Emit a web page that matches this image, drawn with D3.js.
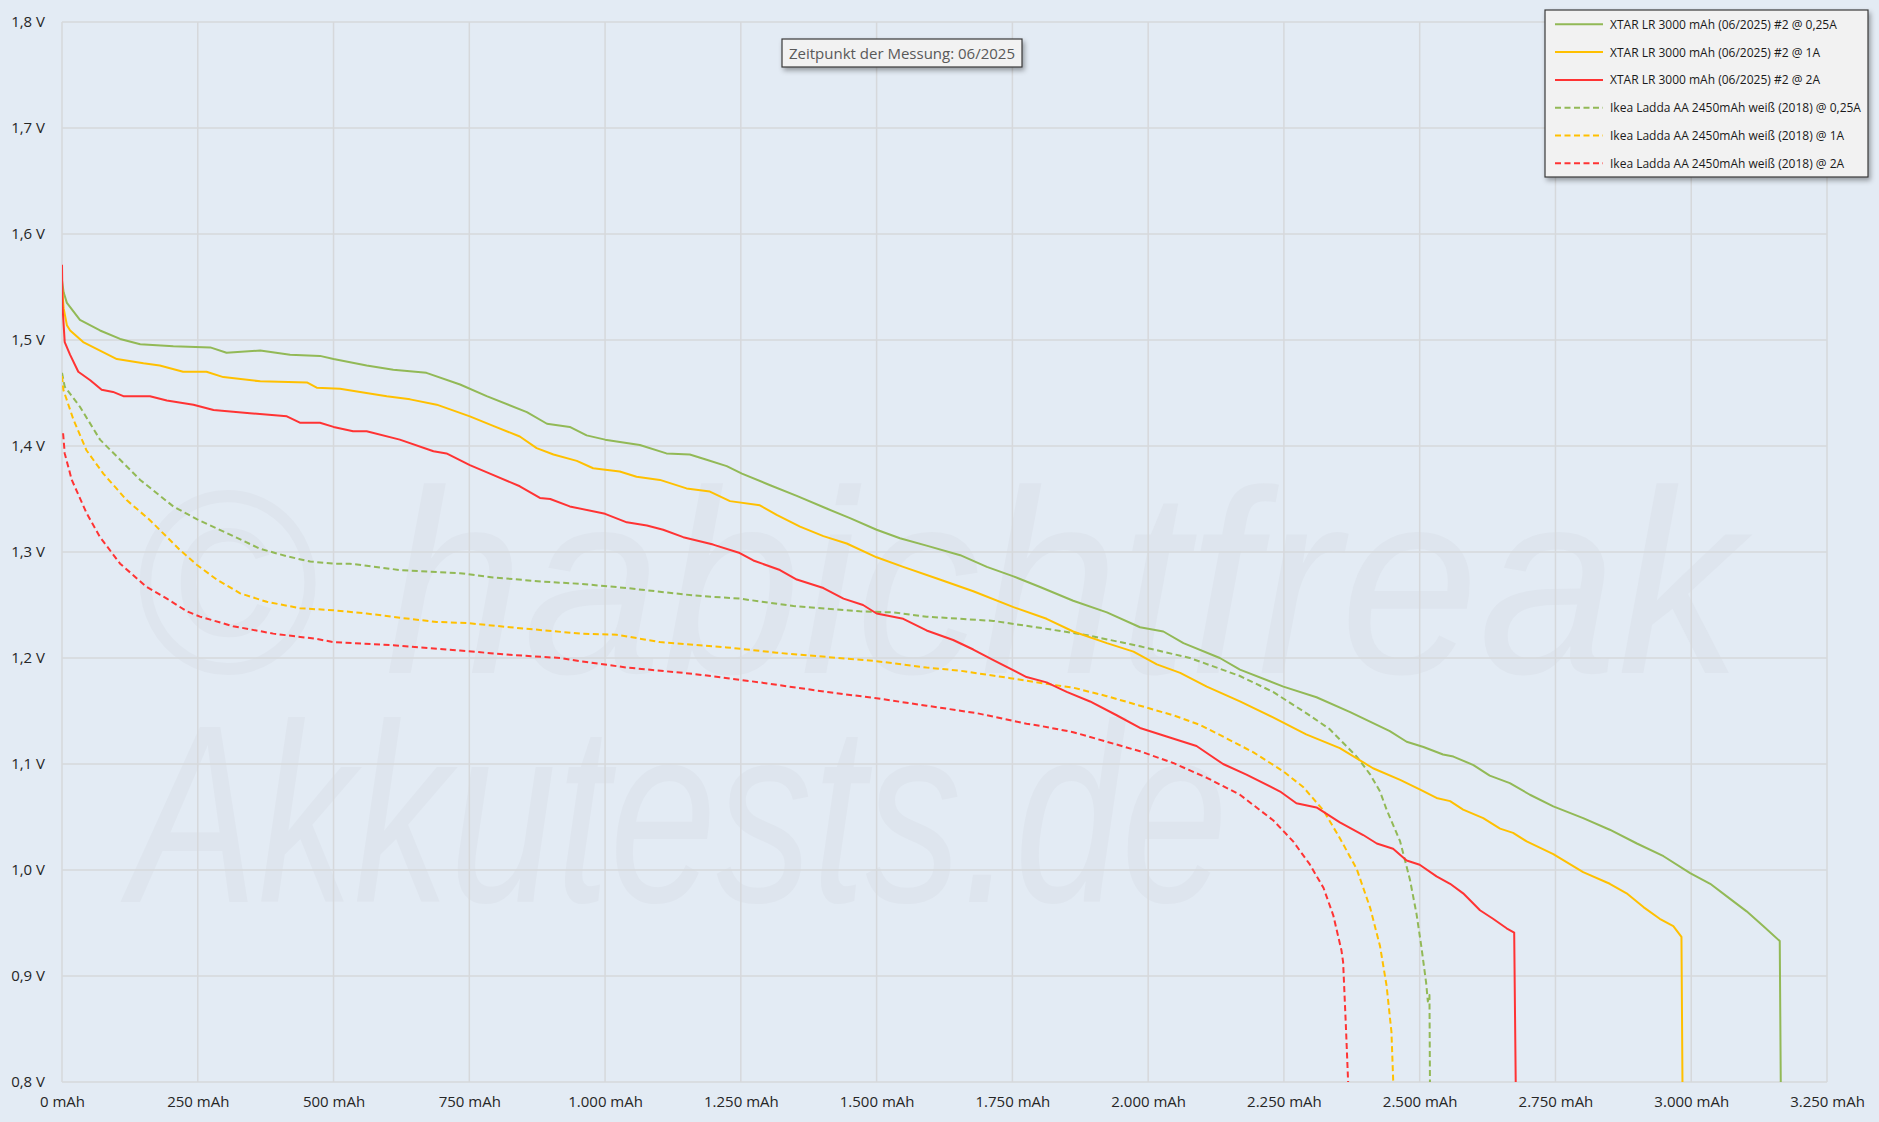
<!DOCTYPE html>
<html><head><meta charset="utf-8">
<script src="https://cdn.jsdelivr.net/npm/d3@7"></script>
<style>
html,body{margin:0;padding:0;background:#e3ebf4;}
svg{display:block;}
</style></head>
<body>
<svg id="chart" width="1879" height="1122"></svg>
<script>
// ---- Data (mAh, Volt) ----
const xTicks = [0,250,500,750,1000,1250,1500,1750,2000,2250,2500,2750,3000,3250];
const xTickLabels = ["0 mAh","250 mAh","500 mAh","750 mAh","1.000 mAh","1.250 mAh","1.500 mAh","1.750 mAh","2.000 mAh","2.250 mAh","2.500 mAh","2.750 mAh","3.000 mAh","3.250 mAh"];
const yTicks = [0.8,0.9,1.0,1.1,1.2,1.3,1.4,1.5,1.6,1.7,1.8];
const yTickLabels = ["0,8 V","0,9 V","1,0 V","1,1 V","1,2 V","1,3 V","1,4 V","1,5 V","1,6 V","1,7 V","1,8 V"];

const seriesNames = [
  "XTAR LR 3000 mAh (06/2025) #2 @ 0,25A",
  "XTAR LR 3000 mAh (06/2025) #2 @ 1A",
  "XTAR LR 3000 mAh (06/2025) #2 @ 2A",
  "Ikea Ladda AA 2450mAh weiß (2018) @ 0,25A",
  "Ikea Ladda AA 2450mAh weiß (2018) @ 1A",
  "Ikea Ladda AA 2450mAh weiß (2018) @ 2A"
];

const xtar025 = [[0,1.556],[3,1.545],[9,1.535],[33,1.519],[70,1.509],[107,1.501],[144,1.496],[205,1.494],[273,1.493],[303,1.488],[365,1.490],[420,1.486],[475,1.485],[500,1.482],[561,1.476],[610,1.472],[671,1.469],[733,1.458],[782,1.447],[856,1.432],[893,1.421],[935,1.418],[966,1.410],[1000,1.406],[1064,1.401],[1113,1.393],[1156,1.392],[1187,1.387],[1224,1.381],[1252,1.374],[1304,1.363],[1353,1.353],[1408,1.341],[1451,1.332],[1500,1.321],[1543,1.313],[1592,1.306],[1654,1.297],[1703,1.286],[1752,1.277],[1801,1.267],[1862,1.254],[1924,1.243],[1985,1.229],[2028,1.225],[2065,1.214],[2132,1.200],[2169,1.189],[2249,1.173],[2310,1.163],[2372,1.149],[2445,1.131],[2476,1.121],[2507,1.116],[2543,1.109],[2562,1.107],[2599,1.099],[2629,1.089],[2666,1.082],[2703,1.071],[2746,1.060],[2801,1.049],[2850,1.038],[2900,1.025],[2949,1.013],[2998,0.997],[3035,0.987],[3071,0.973],[3102,0.961],[3133,0.947],[3163,0.933],[3165,0.790]];

const xtar1 = [[0,1.550],[3,1.530],[9,1.514],[15,1.509],[39,1.498],[70,1.490],[101,1.482],[150,1.478],[180,1.476],[223,1.470],[266,1.470],[297,1.465],[365,1.461],[451,1.460],[469,1.455],[512,1.454],[549,1.451],[598,1.447],[641,1.444],[690,1.439],[751,1.428],[794,1.419],[843,1.409],[874,1.398],[905,1.392],[948,1.386],[978,1.379],[1027,1.376],[1058,1.371],[1101,1.368],[1150,1.360],[1193,1.357],[1230,1.348],[1285,1.344],[1316,1.335],[1359,1.324],[1402,1.315],[1445,1.308],[1500,1.295],[1549,1.286],[1611,1.275],[1678,1.263],[1752,1.248],[1813,1.237],[1862,1.225],[1924,1.214],[1973,1.206],[2016,1.194],[2059,1.186],[2108,1.173],[2169,1.159],[2230,1.144],[2291,1.128],[2353,1.115],[2414,1.096],[2464,1.085],[2500,1.076],[2531,1.068],[2556,1.065],[2580,1.057],[2617,1.049],[2648,1.039],[2672,1.035],[2697,1.027],[2746,1.015],[2801,0.998],[2850,0.987],[2881,0.978],[2912,0.965],[2942,0.954],[2967,0.947],[2982,0.937],[2984,0.790]];

const xtar2 = [[0,1.571],[1,1.531],[5,1.498],[15,1.486],[30,1.470],[52,1.462],[73,1.453],[94,1.451],[113,1.447],[162,1.447],[193,1.443],[242,1.439],[279,1.434],[346,1.431],[414,1.428],[438,1.422],[475,1.422],[500,1.418],[536,1.414],[561,1.414],[622,1.406],[684,1.395],[708,1.393],[751,1.382],[788,1.374],[843,1.362],[880,1.351],[899,1.350],[935,1.343],[1000,1.336],[1040,1.328],[1077,1.325],[1107,1.321],[1144,1.314],[1199,1.307],[1248,1.299],[1273,1.292],[1322,1.283],[1353,1.274],[1402,1.266],[1439,1.256],[1475,1.250],[1500,1.242],[1549,1.237],[1592,1.226],[1641,1.217],[1678,1.208],[1715,1.198],[1776,1.182],[1813,1.177],[1850,1.168],[1893,1.159],[1942,1.146],[1985,1.134],[2034,1.126],[2089,1.117],[2138,1.100],[2181,1.090],[2243,1.074],[2273,1.063],[2310,1.059],[2353,1.045],[2396,1.033],[2421,1.025],[2451,1.020],[2476,1.009],[2500,1.005],[2531,0.994],[2556,0.987],[2580,0.978],[2611,0.962],[2635,0.954],[2660,0.945],[2674,0.941],[2677,0.790]];

const ikea025 = [[0,1.469],[5,1.456],[33,1.437],[70,1.406],[107,1.387],[144,1.368],[205,1.343],[248,1.331],[303,1.318],[365,1.303],[414,1.296],[457,1.291],[500,1.289],[530,1.289],[561,1.287],[622,1.283],[733,1.280],[794,1.276],[886,1.272],[954,1.270],[1040,1.266],[1163,1.259],[1248,1.256],[1347,1.249],[1469,1.244],[1531,1.243],[1592,1.239],[1715,1.235],[1807,1.228],[1893,1.221],[1985,1.211],[2077,1.200],[2169,1.183],[2230,1.168],[2291,1.148],[2334,1.133],[2384,1.107],[2409,1.090],[2427,1.074],[2439,1.057],[2464,1.027],[2482,0.991],[2494,0.959],[2503,0.928],[2512,0.893],[2515,0.876],[2518,0.882],[2519,0.790]];

const ikea1 = [[0,1.466],[2.5,1.453],[21,1.425],[45,1.396],[76,1.374],[119,1.349],[162,1.330],[217,1.302],[248,1.288],[285,1.274],[328,1.261],[377,1.253],[438,1.247],[500,1.245],[561,1.242],[622,1.238],[690,1.234],[745,1.233],[825,1.229],[954,1.223],[1021,1.222],[1101,1.215],[1224,1.210],[1316,1.205],[1408,1.201],[1500,1.197],[1592,1.191],[1654,1.188],[1746,1.181],[1807,1.176],[1862,1.172],[1924,1.164],[1985,1.155],[2046,1.146],[2095,1.137],[2145,1.124],[2194,1.111],[2249,1.093],[2286,1.078],[2323,1.056],[2353,1.030],[2384,1.001],[2409,0.964],[2427,0.928],[2439,0.891],[2448,0.847],[2452,0.790]];

const ikea2 = [[2,1.412],[5,1.393],[18,1.368],[45,1.337],[70,1.314],[107,1.289],[156,1.267],[193,1.256],[230,1.244],[254,1.239],[315,1.230],[389,1.223],[469,1.218],[500,1.215],[610,1.212],[733,1.207],[825,1.203],[917,1.200],[954,1.197],[1040,1.191],[1163,1.185],[1285,1.177],[1408,1.168],[1500,1.162],[1592,1.155],[1684,1.148],[1776,1.138],[1801,1.136],[1862,1.130],[1924,1.121],[1985,1.112],[2046,1.101],[2108,1.087],[2169,1.071],[2230,1.047],[2267,1.027],[2298,1.005],[2323,0.983],[2341,0.957],[2356,0.924],[2359,0.913],[2364,0.854],[2369,0.790]];

const seriesData = [xtar025, xtar1, xtar2, ikea025, ikea1, ikea2];
const seriesColors = ["#92b956","#ffc000","#ff3333","#92b956","#ffc000","#ff3333"];
const seriesDashed = [false,false,false,true,true,true];

const annotationText = "Zeitpunkt der Messung: 06/2025";
const watermark1 = "© habichtfreak";
const watermark2 = "Akkutests.de";

// ---- Drawing ----
const svg = d3.select("#chart");
const W = 1879, H = 1122;
const plot = {left:62, right:1827, top:22, bottom:1082};
const x = d3.scaleLinear().domain([0,3250]).range([plot.left, plot.right]);
const y = d3.scaleLinear().domain([0.8,1.8]).range([plot.bottom, plot.top]);
const FONT = "'Open Sans','Noto Sans',sans-serif";

svg.append("rect").attr("width",W).attr("height",H).attr("fill","#e3ebf4");

const defs = svg.append("defs");
defs.append("clipPath").attr("id","clip").append("rect")
  .attr("x",plot.left).attr("y",plot.top-5).attr("width",plot.right-plot.left+5).attr("height",plot.bottom-plot.top+5);
const f = defs.append("filter").attr("id","shadow").attr("x","-10%").attr("y","-20%").attr("width","130%").attr("height","160%");
f.append("feDropShadow").attr("dx",2).attr("dy",3).attr("stdDeviation",2.5).attr("flood-color","#000").attr("flood-opacity",0.35);

// watermark (faint, behind everything)
const wm = svg.append("g").attr("fill","#dee5ee")
  .attr("font-family","'Liberation Sans',Arial,sans-serif").attr("font-style","italic");
wm.append("text").attr("x",132).attr("y",673)
  .attr("font-size",262)
  .attr("textLength",1610).attr("lengthAdjust","spacingAndGlyphs")
  .text(watermark1);
wm.append("text").attr("x",130).attr("y",902)
  .attr("font-size",254)
  .attr("textLength",1098).attr("lengthAdjust","spacingAndGlyphs")
  .text(watermark2);

// grid
const grid = svg.append("g");
grid.selectAll("line.h").data(yTicks).join("line")
  .attr("x1",plot.left).attr("x2",plot.right)
  .attr("y1",d=>y(d)).attr("y2",d=>y(d))
  .attr("stroke","#d6d8db").attr("stroke-width",1.5);
grid.selectAll("line.v").data(xTicks).join("line")
  .attr("y1",plot.top).attr("y2",plot.bottom)
  .attr("x1",d=>x(d)).attr("x2",d=>x(d))
  .attr("stroke","#d6d8db").attr("stroke-width",1.5);

// axes labels via d3 axes
const yAxis = d3.axisLeft(y).tickValues(yTicks).tickSize(0).tickPadding(17)
  .tickFormat((d,i)=>yTickLabels[i]);
const ya = svg.append("g").attr("transform",`translate(${plot.left},0)`).call(yAxis);
ya.select(".domain").remove();
ya.selectAll("text").attr("font-family",FONT).attr("font-size",15).attr("fill","#262626");

const xAxis = d3.axisBottom(x).tickValues(xTicks).tickSize(0).tickPadding(14)
  .tickFormat((d,i)=>xTickLabels[i]);
const xa = svg.append("g").attr("transform",`translate(0,${plot.bottom})`).call(xAxis);
xa.select(".domain").remove();
xa.selectAll("text").attr("font-family",FONT).attr("font-size",15).attr("fill","#262626");

// lines
const line = d3.line().x(d=>x(d[0])).y(d=>y(d[1]));
const lg = svg.append("g").attr("clip-path","url(#clip)");
[3,4,5,0,1,2].forEach(i=>{
  lg.append("path").datum(seriesData[i])
    .attr("d",line).attr("fill","none")
    .attr("stroke",seriesColors[i]).attr("stroke-width",2)
    .attr("stroke-linejoin","round")
    .attr("stroke-dasharray",seriesDashed[i]?"6,3.5":null);
});

// annotation box
const ann = svg.append("g");
ann.append("rect").attr("x",782).attr("y",39).attr("width",240).attr("height",28)
  .attr("fill","#f2f2f2").attr("stroke","#3a3a3a").attr("stroke-width",1.2).attr("filter","url(#shadow)");
ann.append("text").attr("x",902).attr("y",53).attr("text-anchor","middle").attr("dominant-baseline","central")
  .attr("font-family",FONT).attr("font-size",15).attr("fill","#595959").text(annotationText);

// legend
const leg = svg.append("g");
leg.append("rect").attr("x",1545).attr("y",10).attr("width",323).attr("height",167)
  .attr("fill","#f2f2f2").attr("stroke","#3a3a3a").attr("stroke-width",1.2).attr("filter","url(#shadow)");
seriesNames.forEach((name,i)=>{
  const cy = 24.3 + i*27.8;
  leg.append("line").attr("x1",1555).attr("x2",1603).attr("y1",cy).attr("y2",cy)
    .attr("stroke",seriesColors[i]).attr("stroke-width",2)
    .attr("stroke-dasharray",seriesDashed[i]?"6,3.5":null);
  leg.append("text").attr("x",1610).attr("y",cy).attr("dominant-baseline","central")
    .attr("font-family",FONT).attr("font-size",12).attr("fill","#1a1a1a").text(name);
});
</script>
</body></html>
